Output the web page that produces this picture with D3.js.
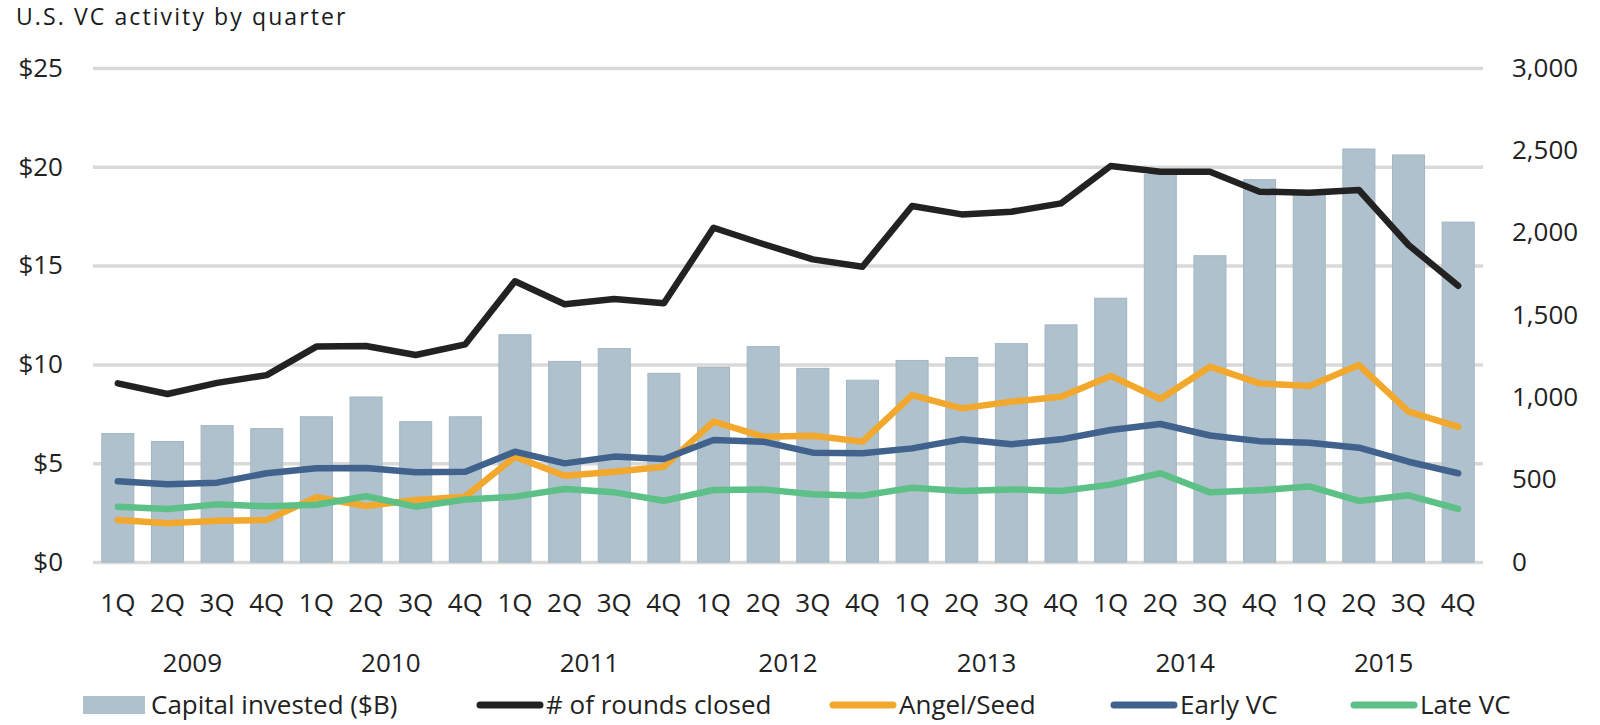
<!DOCTYPE html>
<html lang="en">
  <head>
    <meta charset="utf-8">
    <title>U.S. VC activity by quarter</title>
    <script src="https://d3js.org/d3.v7.min.js"></script>
    <style>
      body { margin: 0; background: #fff; }
      text { font-family: "Open Sans", sans-serif; fill: #222; }
    </style>
  </head>
  <body>
    <script>
      // quarterly data 2009 - 2015
      var years = ["2009", "2010", "2011", "2012", "2013", "2014", "2015"];
      var quarters = ["1Q", "2Q", "3Q", "4Q"];
      var capital = [6.5, 6.1, 6.9, 6.75, 7.35, 8.35, 7.1, 7.35, 11.5, 10.15, 10.8, 9.55, 9.85, 10.9,
                     9.8, 9.2, 10.2, 10.35, 11.05, 12.0, 13.35, 19.6, 15.5, 19.35, 18.6, 20.9, 20.6, 17.2];
      var rounds = [1085, 1020, 1088, 1135, 1308, 1312, 1257, 1322, 1705, 1565, 1597, 1571, 2030, 1931,
                    1838, 1793, 2162, 2111, 2127, 2178, 2405, 2370, 2370, 2249, 2243, 2259, 1925, 1678];
      var angel = [255, 235, 251, 255, 393, 340, 377, 397, 640, 524, 548, 579, 852, 761,
                   767, 731, 1014, 933, 974, 1004, 1130, 990, 1186, 1085, 1069, 1196, 913, 820];
      var early = [490, 472, 482, 539, 569, 571, 545, 548, 670, 599, 640, 625, 741, 731,
                   664, 660, 690, 745, 715, 745, 802, 838, 768, 734, 724, 694, 609, 539];
      var late = [336, 322, 350, 338, 348, 399, 336, 379, 397, 443, 423, 372, 437, 441,
                  411, 403, 451, 431, 441, 431, 470, 539, 423, 435, 459, 371, 405, 322];
      var leftTicks = [0, 5, 10, 15, 20, 25];
      var rightTicks = [0, 500, 1000, 1500, 2000, 2500, 3000];

      var series = [
        {name: "# of rounds closed", values: rounds, color: "#222222"},
        {name: "Angel/Seed", values: angel, color: "#f2a82c"},
        {name: "Early VC", values: early, color: "#41628d"},
        {name: "Late VC", values: late, color: "#5dc086"}
      ];

      var width = 1600, height = 725,
          plotL = 93, plotR = 1483, plotT = 68, plotB = 562;

      var idx = d3.range(capital.length);

      var x = d3.scaleBand().domain(idx).range([plotL, plotR])
          .paddingInner(0.355).paddingOuter(0.1775);
      var yL = d3.scaleLinear().domain([0, 25]).range([plotB, plotT]);
      var yR = d3.scaleLinear().domain([0, 3000]).range([plotB, plotT]);

      var svg = d3.select("body").append("svg")
          .attr("width", width)
          .attr("height", height);

      svg.append("text")
          .attr("x", 16).attr("y", 25)
          .style("font-size", "23px")
          .style("letter-spacing", "2.1px")
          .style("fill", "#1a1a1a")
          .text("U.S. VC activity by quarter");

      // left axis + gridlines
      var gl = svg.append("g")
          .attr("transform", "translate(" + plotL + ",0)")
          .call(d3.axisLeft(yL).tickValues(leftTicks)
            .tickSize(-(plotR - plotL)).tickPadding(30)
            .tickFormat(function(d) { return "$" + d; }));
      gl.select(".domain").remove();
      gl.selectAll(".tick line").attr("stroke", "#d9d9d9").attr("stroke-width", 3.5);
      gl.selectAll(".tick text").style("font-size", "26px").attr("fill", "#222");

      // right axis
      var gr = svg.append("g")
          .attr("transform", "translate(" + plotR + ",0)")
          .call(d3.axisRight(yR).tickValues(rightTicks)
            .tickSize(0).tickPadding(29).tickFormat(d3.format(",")));
      gr.select(".domain").remove();
      gr.selectAll(".tick text").style("font-size", "26px").attr("fill", "#222");

      // quarter labels
      var gb = svg.append("g")
          .attr("transform", "translate(0," + plotB + ")")
          .call(d3.axisBottom(x).tickSize(0).tickPadding(32)
            .tickFormat(function(i) { return quarters[i % 4]; }));
      gb.select(".domain").remove();
      gb.selectAll(".tick text").style("font-size", "26px").attr("fill", "#222");

      // year labels
      svg.append("g").selectAll("text")
          .data(years)
        .enter().append("text")
          .attr("x", function(d, k) {
            return (x(k * 4) + x(k * 4 + 3) + x.bandwidth()) / 2;
          })
          .attr("y", 672)
          .attr("text-anchor", "middle")
          .style("font-size", "26px")
          .text(function(d) { return d; });

      // bars
      svg.append("g").selectAll("rect")
          .data(capital)
        .enter().append("rect")
          .attr("x", function(d, i) { return x(i); })
          .attr("y", function(d) { return yL(d); })
          .attr("width", x.bandwidth())
          .attr("height", function(d) { return yL(0) - yL(d); })
          .attr("fill", "#aec1cd")
          .attr("stroke", "#a2b6c3")
          .attr("stroke-width", 1);

      var line = d3.line()
          .x(function(d, i) { return x(i) + x.bandwidth() / 2; })
          .y(function(d) { return yR(d); });

      svg.append("g").selectAll("path")
          .data(series)
        .enter().append("path")
          .attr("d", function(s) { return line(s.values); })
          .attr("fill", "none")
          .attr("stroke", function(s) { return s.color; })
          .attr("stroke-width", 6.5)
          .attr("stroke-linejoin", "round")
          .attr("stroke-linecap", "round");

      // legend
      var ly = 705;
      var lg = svg.append("g");
      lg.append("rect")
          .attr("x", 83).attr("y", 696).attr("width", 62).attr("height", 18)
          .attr("fill", "#aec1cd");
      lg.append("text")
          .attr("x", 151).attr("y", ly).attr("dy", "0.35em")
          .style("font-size", "26px")
          .text("Capital invested ($B)");

      var legendX = [477, 830, 1111, 1351];
      var items = lg.selectAll("g.item")
          .data(series)
        .enter().append("g")
          .attr("class", "item")
          .attr("transform", function(d, i) { return "translate(" + legendX[i] + "," + ly + ")"; });
      items.append("line")
          .attr("x1", 3).attr("x2", 63)
          .attr("stroke", function(d) { return d.color; })
          .attr("stroke-width", 7)
          .attr("stroke-linecap", "round");
      items.append("text")
          .attr("x", 69).attr("dy", "0.35em")
          .style("font-size", "26px")
          .text(function(d) { return d.name; });
    </script>
  </body>
</html>
